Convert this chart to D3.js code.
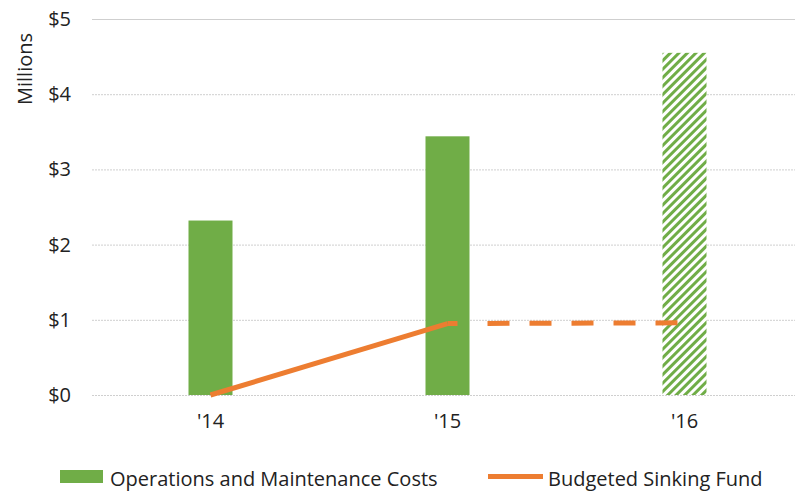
<!DOCTYPE html>
<html><head><meta charset="utf-8">
<script src="https://cdn.jsdelivr.net/npm/d3@7"></script>
<style>body{margin:0;background:#fff}svg{display:block}text{font-family:"Open Sans",Lato,sans-serif;fill:#222}</style>
</head><body><svg id="c" width="795" height="493"></svg>
<script>
const categories = ["'14", "'15", "'16"];
const omCosts = [2.32, 3.44, 4.55];
const omProjected = [false, false, true];
const sinkingFund = [0, 0.95, 0.96];
const yTicks = [0, 1, 2, 3, 4, 5];
const yTickLabels = ["$0", "$1", "$2", "$3", "$4", "$5"];

const svg = d3.select("#c");
const W = 795, H = 493;
const FONT = "'Open Sans', Lato, sans-serif";
const x = d3.scaleBand().domain(categories).range([92, 803]);
const y = d3.scaleLinear().domain([0, 5]).range([395, 19]);
const barW = 44;

const defs = svg.append("defs");
const pat = defs.append("pattern").attr("id", "hatch").attr("patternUnits", "userSpaceOnUse")
  .attr("width", 6).attr("height", 6).attr("patternTransform", "rotate(45)");
pat.append("rect").attr("width", 6).attr("height", 6).attr("fill", "#fff");
pat.append("rect").attr("width", 3).attr("height", 6).attr("fill", "#70AD47");

// grid
svg.append("g").selectAll("line").data(yTicks).join("line")
  .attr("x1", 92).attr("x2", W).attr("y1", d => y(d) + 0.5).attr("y2", d => y(d) + 0.5)
  .attr("stroke", "#cfcfcf").attr("stroke-width", 1)
  .attr("stroke-dasharray", d => d === 5 ? null : "2,1");

// y axis labels
const yAxis = d3.axisLeft(y).tickValues(yTicks).tickFormat((d, i) => yTickLabels[i]).tickSize(0).tickPadding(0);
const ga = svg.append("g").attr("transform", "translate(71,0)").call(yAxis);
ga.select(".domain").remove();
ga.selectAll("text").style("font-family", FONT).style("font-size", "20px").attr("fill", "#222");

svg.append("text").attr("transform", "translate(32,69) rotate(-90)").attr("text-anchor", "middle")
  .style("font-size", "20px").text("Millions");

// bars
svg.append("g").selectAll("rect").data(categories).join("rect")
  .attr("x", d => x(d) + x.bandwidth() / 2 - barW / 2)
  .attr("y", (d, i) => y(omCosts[i]))
  .attr("width", barW)
  .attr("height", (d, i) => y(0) - y(omCosts[i]))
  .attr("fill", (d, i) => omProjected[i] ? "url(#hatch)" : "#70AD47");

// x labels
const xAxis = d3.axisBottom(x).tickSize(0).tickPadding(0);
const gx = svg.append("g").attr("transform", "translate(0,414)").call(xAxis);
gx.select(".domain").remove();
gx.selectAll("text").style("font-family", FONT).style("font-size", "20px").attr("fill", "#222");

// line
const cx = d => x(d) + x.bandwidth() / 2;
const line = d3.line().x(d => cx(d.c)).y(d => y(d.v));
const pts = categories.map((c, i) => ({c, v: sinkingFund[i]}));
svg.append("path").datum(pts.slice(0, 2)).attr("d", line)
  .attr("fill", "none").attr("stroke", "#ED7D31").attr("stroke-width", 5).attr("stroke-linejoin", "round");
svg.append("path").datum(pts.slice(1, 3)).attr("d", line)
  .attr("fill", "none").attr("stroke", "#ED7D31").attr("stroke-width", 5)
  .attr("stroke-dasharray", "10,30,22,20,22,20,22,20,22,20,22,20");

// legend
const lg = svg.append("g");
lg.append("rect").attr("x", 60).attr("y", 470).attr("width", 43).attr("height", 13).attr("fill", "#70AD47");
lg.append("text").attr("x", 110).attr("y", 486).style("font-size", "20px").text("Operations and Maintenance Costs");
lg.append("line").attr("x1", 488).attr("x2", 543).attr("y1", 476.5).attr("y2", 476.5)
  .attr("stroke", "#ED7D31").attr("stroke-width", 5);
lg.append("text").attr("x", 548).attr("y", 486).style("font-size", "20px").text("Budgeted Sinking Fund");
</script></body></html>
